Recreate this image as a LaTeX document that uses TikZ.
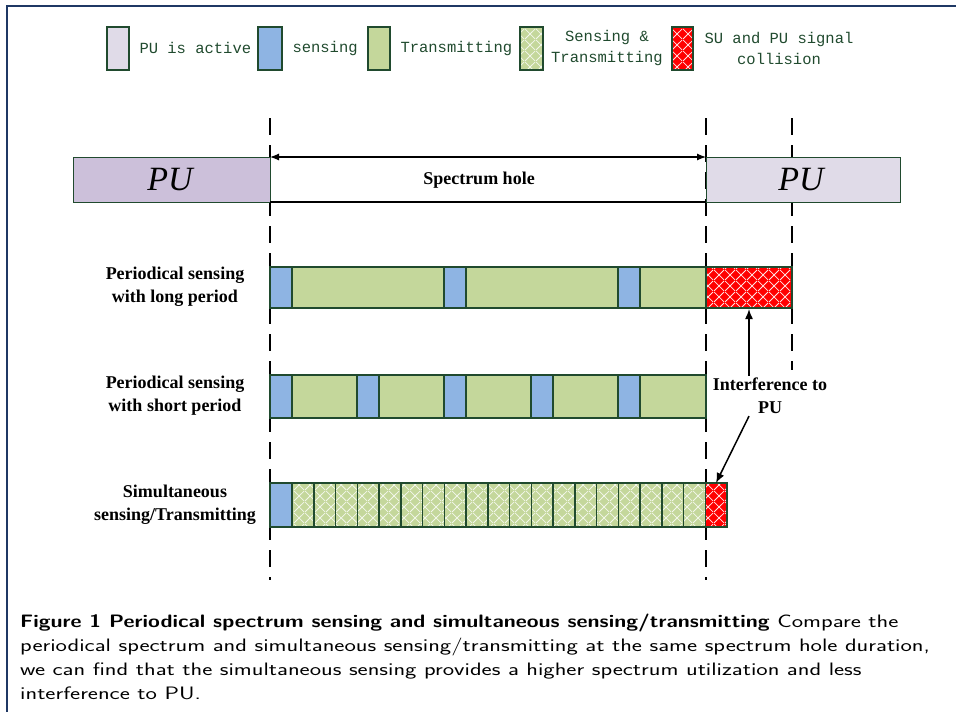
\documentclass[tikz,border=0pt]{standalone}
\usepackage{fontspec}
\setmainfont{Liberation Serif}
\newfontfamily\legendfont{Liberation Mono}
\usetikzlibrary{arrows.meta,patterns.meta}

\definecolor{puDark}{RGB}{204,192,218}
\definecolor{puLight}{RGB}{224,219,232}
\definecolor{senseBlue}{RGB}{142,180,227}
\definecolor{txGreen}{RGB}{196,215,155}
\definecolor{edgeGreen}{RGB}{32,74,46}
\definecolor{frameBlue}{RGB}{31,56,100}

\tikzdeclarepattern{
  name=lattice, type=uncolored,
  bounding box={(0,0) and (10.5pt,10.5pt)},
  tile size={(10.5pt,10.5pt)},
  code={\draw[line width=0.8pt] (0,0) -- (10.5pt,10.5pt) (0,10.5pt) -- (10.5pt,0);}
}

\begin{document}
\begin{tikzpicture}[x=1pt,y=-1pt,
    slot/.style={draw=edgeGreen, line width=1.5pt},
    sensebox/.style={slot, fill=senseBlue},
    txbox/.style={slot, fill=txGreen},
    hatchbox/.style={slot, preaction={fill=txGreen}, pattern=lattice, pattern color=white!80!txGreen},
    clashbox/.style={slot, preaction={fill=red}, pattern=lattice, pattern color=white!90!red},
    pubar/.style={draw=edgeGreen, line width=1pt},
    dashline/.style={line width=1.5pt, dash pattern=on 17pt off 10pt},
    rowlabel/.style={align=center, font=\bfseries\fontsize{18}{23}\selectfont},
    legtext/.style={text=edgeGreen, align=center, font=\legendfont\fontsize{15.5}{21}\selectfont}]
    \useasboundingbox (0,0) rectangle (956,712);

    % Draw the frame
    \draw[frameBlue, line width=1.2pt] (7,712) -- (7,6) -- (956,6);

    % Draw the time marks
    \draw[dashline] (270,118) -- (270,580);
    \draw[dashline] (706,118) -- (706,580);
    \draw[dashline] (792,118) -- (792,370);

    % Draw the legend
    \draw[slot, fill=puLight] (107,27) rectangle (129,70);
    \node[legtext, anchor=west] (legPU) at (136,48) {PU is active};
    \draw[sensebox] (258,27) rectangle (282,70);
    \node[legtext, anchor=west] (legSense) at (289,48) {sensing};
    \draw[txbox] (368,27) rectangle (390,70);
    \node[legtext, anchor=west] (legTx) at (397,48) {Transmitting};
    \draw[hatchbox] (520,27) rectangle (543,70);
    \node[legtext] (legBoth) at (607,48) {Sensing \&\\Transmitting};
    \draw[clashbox] (672,27) rectangle (693,70);
    \node[legtext] (legClash) at (779,48) {SU and PU signal\\collision};

    % Draw the PU activity and the spectrum hole
    \draw[pubar, fill=puDark] (73,157) rectangle (270,202);
    \node[font=\itshape\fontsize{34}{34}\selectfont] (puLeft) at (170,180) {PU};
    \draw[pubar, fill=puLight] (706,157) rectangle (900,202);
    \node[font=\itshape\fontsize{34}{34}\selectfont] (puRight) at (801,180) {PU};
    \draw[{Latex[length=9pt,width=7pt]}-{Latex[length=9pt,width=7pt]}, line width=1.2pt] (270,157) -- (706,157);
    \draw[line width=1.2pt] (270,202) -- (706,202);
    \node[font=\bfseries\fontsize{18}{18}\selectfont] (hole) at (479,180) {Spectrum hole};

    % Draw periodical sensing with long period
    \node[rowlabel] (lblLong) at (175,287) {Periodical sensing\\with long period};
    \draw[txbox] (270,267) rectangle (706,308);
    \foreach \s in {270,444,618}
        \draw[sensebox] (\s,267) rectangle ++(22,41);
    \draw[clashbox] (706,267) rectangle (792,308);

    % Draw periodical sensing with short period
    \node[rowlabel] (lblShort) at (175,396) {Periodical sensing\\with short period};
    \draw[txbox] (270,375) rectangle (706,418);
    \foreach \s in {270,357,444,531,618}
        \draw[sensebox] (\s,375) rectangle ++(22,43);

    % Draw simultaneous sensing and transmitting
    \node[rowlabel] (lblSim) at (175,505) {Simultaneous\\sensing/Transmitting};
    \draw[sensebox] (270,483) rectangle (292,527);
    \foreach \i in {0,...,18}
        \draw[hatchbox] ({292+\i*21.75},483) rectangle ++(21.75,44);
    \draw[clashbox] (705.25,483) rectangle (727,527);

    % Draw the interference arrows
    \node[rowlabel, inner sep=2pt] (interf) at (770,396) {Interference to\\PU};
    \coordinate (hitLong) at (749,309);
    \coordinate (hitSim) at (716,483);
    \draw[-{Latex[length=10pt,width=8pt]}, line width=1.5pt] (interf.north -| hitLong) -- (hitLong);
    \draw[-{Latex[length=10pt,width=8pt]}, line width=1.5pt] (interf.south -| hitLong) -- (hitSim);

    % Caption
    \node[anchor=north west, align=left, inner sep=0pt,
          font=\sffamily\fontsize{18}{24}\selectfont] (caption) at (20,614)
        {\scalebox{1.34}[1]{\parbox[t]{760pt}{\raggedright
         \scalebox{0.89}[1]{\bfseries Figure 1 Periodical spectrum sensing and simultaneous sensing/transmitting} Compare the\\
         periodical spectrum and simultaneous sensing/transmitting at the same spectrum hole duration,\\
         we can find that the simultaneous sensing provides a higher spectrum utilization and less\\
         interference to PU.}}};
\end{tikzpicture}
\end{document}
